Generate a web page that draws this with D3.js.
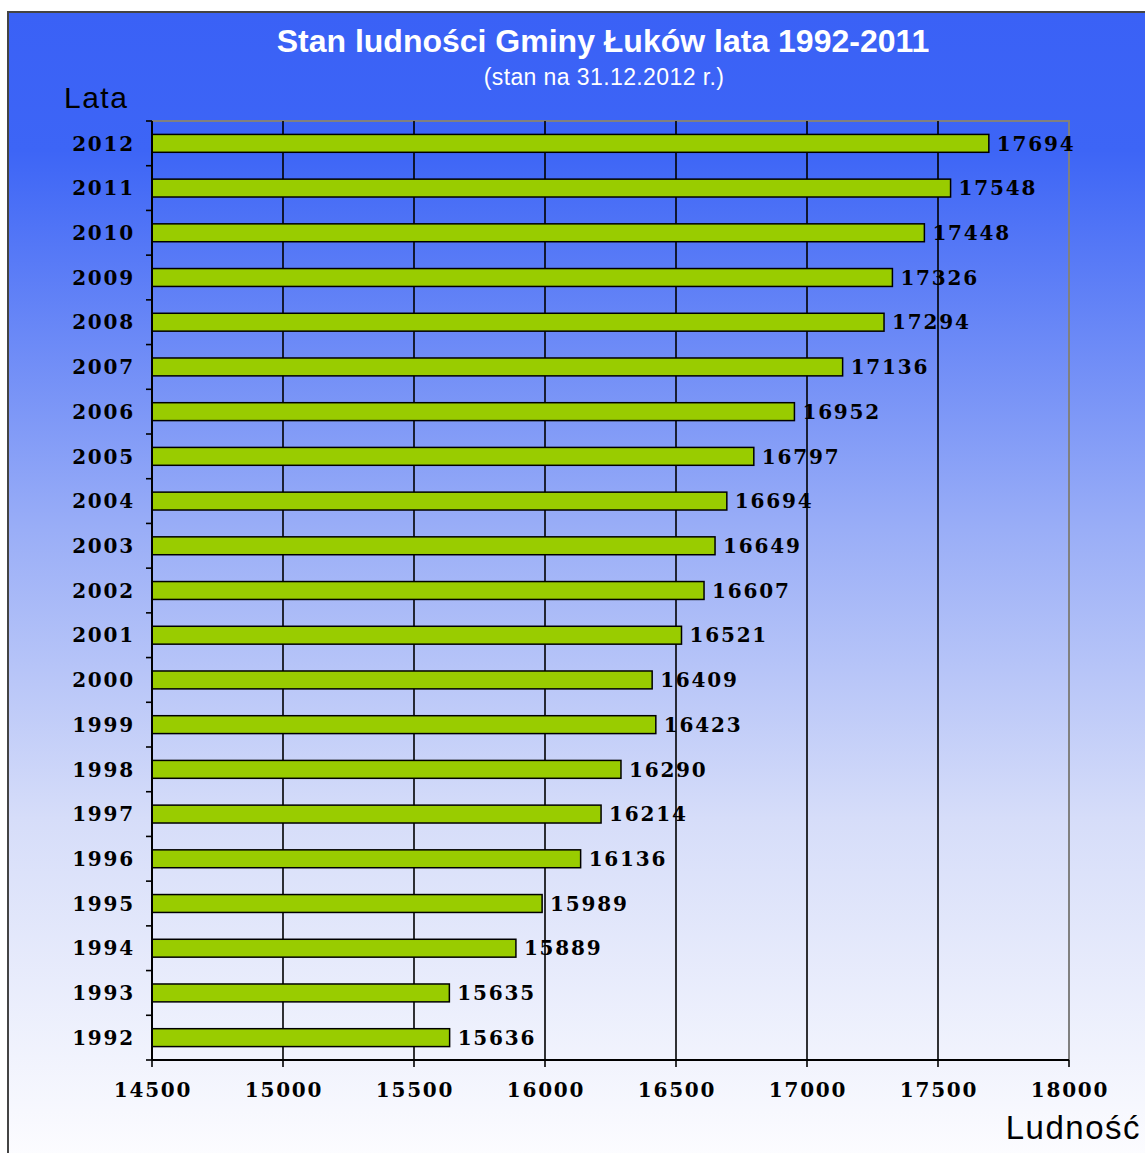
<!DOCTYPE html>
<html>
<head>
<meta charset="utf-8">
<script src="https://cdn.jsdelivr.net/npm/d3@7"></script>
<style>
html,body{margin:0;padding:0;background:#fff;}
svg{display:block;}
</style>
</head>
<body>
<svg id="chart" width="1145" height="1153"></svg>
<script>
const years = [1992,1993,1994,1995,1996,1997,1998,1999,2000,2001,2002,2003,2004,2005,2006,2007,2008,2009,2010,2011,2012];
const population = [15636,15635,15889,15989,16136,16214,16290,16423,16409,16521,16607,16649,16694,16797,16952,17136,17294,17326,17448,17548,17694];
const xTicks = [14500,15000,15500,16000,16500,17000,17500,18000];
const titleText = "Stan ludności Gminy Łuków lata 1992-2011";
const subtitleText = "(stan na 31.12.2012 r.)";
const yAxisTitle = "Lata";
const xAxisTitle = "Ludność";

const svg = d3.select("#chart");
const W = 1145, H = 1153;
const plot = {left:152, right:1069, top:121, bottom:1060};

const defs = svg.append("defs");
const grad = defs.append("linearGradient").attr("id","bg").attr("x1",0).attr("y1",0).attr("x2",0).attr("y2",1);
grad.append("stop").attr("offset","0%").attr("stop-color","#3a61f6");
grad.append("stop").attr("offset","12%").attr("stop-color","#3d65f6");
grad.append("stop").attr("offset","45%").attr("stop-color","#9aaef7");
grad.append("stop").attr("offset","70%").attr("stop-color","#d6ddf9");
grad.append("stop").attr("offset","100%").attr("stop-color","#fdfdff");

svg.append("rect").attr("x",8).attr("y",12).attr("width",W).attr("height",H)
  .attr("fill","url(#bg)").attr("stroke","#444").attr("stroke-width",2);

const x = d3.scaleLinear().domain([14500,18000]).range([plot.left, plot.right]);
const y = d3.scaleBand().domain(years.slice().reverse()).range([plot.top, plot.bottom])
  .paddingInner(0.6).paddingOuter(0.3);
const step = y.step();

// plot border (top / right) gray
svg.append("path")
  .attr("d", `M${plot.left},${plot.top}H${plot.right}V${plot.bottom}`)
  .attr("fill","none").attr("stroke","#808080").attr("stroke-width",2);

// gridlines
svg.append("g").selectAll("line").data(xTicks.filter(t => t>14500 && t<18000)).join("line")
  .attr("x1", d=>x(d)).attr("x2", d=>x(d))
  .attr("y1", plot.top).attr("y2", plot.bottom)
  .attr("stroke","#000").attr("stroke-width",1.6);

// bars
svg.append("g").selectAll("rect").data(years).join("rect")
  .attr("x", x(14500))
  .attr("y", (d)=>y(d))
  .attr("width", (d,i)=>x(population[i]) - x(14500))
  .attr("height", y.bandwidth())
  .attr("fill","#99cc00").attr("stroke","#000").attr("stroke-width",1.5);

const numFont = "'DejaVu Serif', serif";
const numSize = 20;
const numSpacing = 1.8;

// value labels
svg.append("g").selectAll("text").data(years).join("text")
  .attr("x", (d,i)=>x(population[i]) + 8)
  .attr("y", d=>y(d) + y.bandwidth()/2)
  .attr("dy","0.36em")
  .attr("font-family", numFont).attr("font-weight","bold").attr("font-size",numSize)
  .attr("letter-spacing", numSpacing)
  .attr("fill","#000")
  .text((d,i)=>population[i]);

// y axis line + ticks
const bounds = d3.range(years.length+1).map(i => plot.top + i*step);
svg.append("line").attr("x1",plot.left).attr("x2",plot.left).attr("y1",plot.top).attr("y2",plot.bottom)
  .attr("stroke","#000").attr("stroke-width",2);
svg.append("g").selectAll("line").data(bounds).join("line")
  .attr("x1", plot.left-6).attr("x2", plot.left)
  .attr("y1", d=>d).attr("y2", d=>d)
  .attr("stroke","#000").attr("stroke-width",1.6);
svg.append("g").selectAll("text").data(years).join("text")
  .attr("x", 135)
  .attr("y", d=>y(d) + y.bandwidth()/2)
  .attr("dy","0.36em")
  .attr("text-anchor","end")
  .attr("font-family", numFont).attr("font-weight","bold").attr("font-size",numSize)
  .attr("letter-spacing", numSpacing)
  .attr("fill","#000")
  .text(d=>d);

// x axis
svg.append("line").attr("x1",plot.left).attr("x2",plot.right).attr("y1",plot.bottom).attr("y2",plot.bottom)
  .attr("stroke","#000").attr("stroke-width",2);
svg.append("g").selectAll("line").data(xTicks).join("line")
  .attr("x1", d=>x(d)).attr("x2", d=>x(d))
  .attr("y1", plot.bottom).attr("y2", plot.bottom+7)
  .attr("stroke","#000").attr("stroke-width",1.6);
svg.append("g").selectAll("text").data(xTicks).join("text")
  .attr("x", d=>x(d)+1)
  .attr("y", 1097)
  .attr("text-anchor","middle")
  .attr("font-family", numFont).attr("font-weight","bold").attr("font-size",numSize)
  .attr("letter-spacing", numSpacing)
  .attr("fill","#000")
  .text(d=>d);

// titles
svg.append("text").attr("x",603).attr("y",52).attr("text-anchor","middle")
  .attr("font-family","'Liberation Sans', Arial, sans-serif").attr("font-weight","bold")
  .attr("font-size",32).attr("fill","#fff").text(titleText);
svg.append("text").attr("x",604).attr("y",85).attr("text-anchor","middle")
  .attr("font-family","'Liberation Sans', Arial, sans-serif")
  .attr("font-size",23).attr("letter-spacing",0.4).attr("fill","#fff").text(subtitleText);
svg.append("text").attr("x",64).attr("y",108)
  .attr("font-family","'Liberation Sans', Arial, sans-serif")
  .attr("font-size",30).attr("letter-spacing",1.5).attr("fill","#000").text(yAxisTitle);
svg.append("text").attr("x",1141).attr("y",1139).attr("text-anchor","end")
  .attr("font-family","'Liberation Sans', Arial, sans-serif")
  .attr("font-size",33).attr("letter-spacing",1.5).attr("fill","#000").text(xAxisTitle);
</script>
</body>
</html>
